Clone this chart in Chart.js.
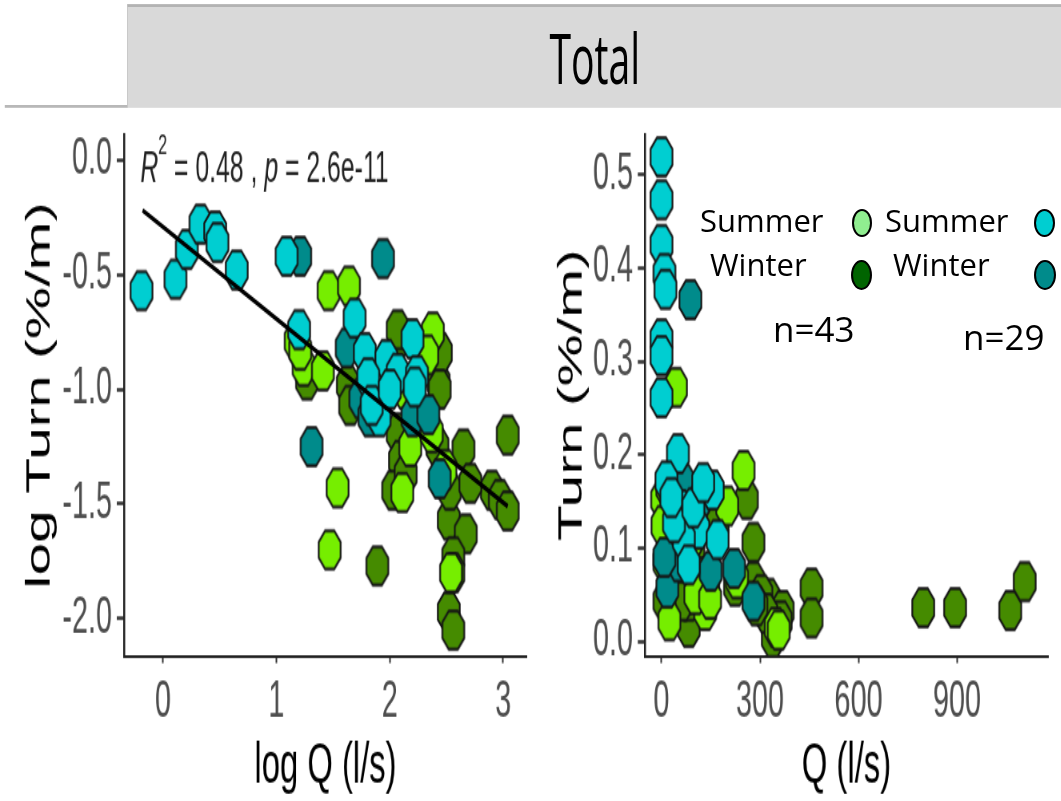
<!DOCTYPE html>
<html>
<head>
<meta charset="utf-8">
<title>Total</title>
<script src="https://cdn.jsdelivr.net/npm/chart.js@4.4.1/dist/chart.umd.min.js"></script>
<style>
  html, body { margin: 0; padding: 0; background: #fff; overflow: hidden; }
  body { width: 1061px; height: 801px; position: relative; }
  /* the original figure is stretched vertically, so the chart stage is drawn flat and scaled */
  #stage { position: absolute; left: 0; top: 0; width: 1326px; height: 572px; transform: scale(0.8, 1.4); transform-origin: 0 0; }
  #strip { position: absolute; left: 159px; top: 3px; width: 1167px; height: 72px; background: #d9d9d9; border-top: 2px solid #b3b3b3; border-left: 1px solid #c4c4c4; }
  #stripText { position: absolute; left: 0; right: 0; top: 12px; text-align: center; font: 49px/49px "Open Sans", sans-serif; color: #000; }
  #rule { position: absolute; left: 6px; top: 75px; width: 153px; height: 2px; background: #b8b8b8; }
  #leftBox { position: absolute; left: 0; top: 80px; width: 690px; height: 492px; }
  #rightBox { position: absolute; left: 690px; top: 80px; width: 636px; height: 492px; }
  .note { position: absolute; font-family: "Open Sans", sans-serif; color: #000; line-height: 1; white-space: nowrap; }
  .key { position: absolute; box-sizing: border-box; border: 2px solid #000; border-radius: 50%; }
</style>
</head>
<body>
<div id="stage">
  <div id="strip"><div id="stripText">Total</div></div>
  <div id="rule"></div>
  <div id="leftBox"><canvas id="leftChart"></canvas></div>
  <div id="rightBox"><canvas id="rightChart"></canvas></div>
</div>

<div class="note" style="left:700px; top:205px; font-size:31px;">Summer</div>
<div class="note" style="left:885px; top:205px; font-size:31px;">Summer</div>
<div class="note" style="left:710px; top:249px; font-size:31px;">Winter</div>
<div class="note" style="left:893px; top:249px; font-size:31px;">Winter</div>
<div class="note" style="left:773px; top:311px; font-size:35px;">n=43</div>
<div class="note" style="left:963px; top:319px; font-size:35px;">n=29</div>
<div class="key" style="left:852px; top:209px; width:20px; height:28px; background:#90ee90;"></div>
<div class="key" style="left:1034px; top:209px; width:21px; height:28px; background:#00ced1;"></div>
<div class="key" style="left:851px; top:260px; width:21px; height:30px; background:#006400;"></div>
<div class="key" style="left:1034px; top:260px; width:22px; height:30px; background:#008b8b;"></div>

<script>
// ---- left panel: log Q vs log Turn ----
const logQ_A_summer = [1.46, 1.64, 2.38, 1.24, 1.41, 2.33, 2.18, 1.54, 2.11, 1.47, 2.54, 1.17, 2.13, 2.37, 2.49, 1.21];
const logTurn_A_summer = [-0.57, -0.55, -0.75, -0.90, -0.92, -0.85, -1.25, -1.43, -1.45, -1.70, -1.80, -0.79, -1.00, -1.19, -1.35, -0.83];
const logQ_A_winter = [2.09, 2.43, 2.45, 1.63, 1.65, 2.44, 2.07, 2.09, 2.42, 2.65, 3.04, 2.03, 2.90, 2.97, 3.04, 2.52, 2.67, 1.89, 2.56, 2.52, 2.56, 1.27, 2.53, 2.07, 2.71, 2.14, 2.56];
const logTurn_A_winter = [-0.77, -0.97, -0.84, -0.98, -1.07, -1.00, -1.19, -1.31, -1.25, -1.26, -1.20, -1.44, -1.44, -1.48, -1.53, -1.57, -1.63, -1.77, -1.73, -1.97, -2.05, -0.96, -1.44, -0.74, -1.41, -1.37, -1.80];
const logQ_B_summer = [-0.19, 0.11, 0.21, 0.33, 0.46, 0.48, 0.65, 1.09, 1.20, 1.69, 2.20, 1.78, 1.97, 2.07, 2.24, 1.81, 1.91, 1.84, 2.00, 2.22];
const logTurn_B_summer = [-0.57, -0.52, -0.39, -0.28, -0.31, -0.36, -0.48, -0.42, -0.74, -0.69, -0.78, -0.84, -0.87, -0.93, -0.94, -0.95, -1.12, -1.07, -1.00, -0.99];
const logQ_B_winter = [1.21, 1.94, 1.62, 1.74, 1.82, 2.20, 2.34, 1.31, 2.44];
const logTurn_B_winter = [-0.42, -0.43, -0.82, -1.04, -1.12, -1.12, -1.11, -1.25, -1.39];
const fitLogQ = [-0.18, 3.04];
const fitLogTurn = [-0.22, -1.51];
const logQTicks = [0, 1, 2, 3];
const logTurnTicks = [-2.0, -1.5, -1.0, -0.5, 0.0];
const statText = { r2: "0.48", p: "2.6e-11" };

// ---- right panel: Q vs Turn ----
const Q_A_summer = [44, 2, 200, 250, 3, 142, 133, 348, 24, 103, 230, 148, 9, 18, 357, 88];
const turn_A_summer = [0.272, 0.152, 0.145, 0.183, 0.124, 0.057, 0.033, 0.015, 0.022, 0.050, 0.067, 0.045, 0.085, 0.165, 0.012, 0.106];
const Q_A_winter = [118, 260, 280, 280, 327, 369, 339, 83, 457, 457, 797, 894, 1062, 1106, 304, 38, 83, 363, 319, 112, 62, 224, 289, 97, 171, 9, 127];
const turn_A_winter = [0.159, 0.152, 0.106, 0.064, 0.046, 0.033, 0.004, 0.015, 0.057, 0.025, 0.036, 0.036, 0.033, 0.064, 0.050, 0.078, 0.043, 0.022, 0.030, 0.053, 0.043, 0.059, 0.038, 0.100, 0.127, 0.043, 0.069];
const Q_B_summer = [0, 0, 0, 9, 12, 0, 0, 0, 50, 15, 59, 156, 112, 171, 68, 83, 38, 30, 97, 127];
const turn_B_summer = [0.519, 0.473, 0.425, 0.394, 0.377, 0.324, 0.306, 0.261, 0.201, 0.172, 0.141, 0.162, 0.120, 0.109, 0.109, 0.082, 0.127, 0.154, 0.143, 0.170];
const Q_B_winter = [88, 68, 150, 221, 18, 280, 53, 112, 9];
const turn_B_winter = [0.366, 0.169, 0.075, 0.078, 0.057, 0.043, 0.085, 0.148, 0.090];
const QTicks = [0, 300, 600, 900];
const turnTicks = [0.0, 0.1, 0.2, 0.3, 0.4, 0.5];

const colA_summer = "#76ee00";
const colA_winter = "#458b00";
const colB_summer = "#00ced1";
const colB_winter = "#008b8b";

const pts = (xs, ys) => xs.map((x, i) => ({ x: x, y: ys[i] }));

// octagon marker like the low-res R points
const makeMarker = (fill) => {
  const c = document.createElement("canvas");
  c.width = 34; c.height = 34;
  const g = c.getContext("2d");
  g.beginPath();
  for (let k = 0; k < 8; k++) {
    const a = Math.PI / 8 + k * Math.PI / 4;
    const px = 17 + 14.8 * Math.cos(a), py = 17 + 14.8 * Math.sin(a);
    if (k === 0) g.moveTo(px, py); else g.lineTo(px, py);
  }
  g.closePath();
  g.fillStyle = fill;
  g.fill();
  g.lineWidth = 2.2;
  g.strokeStyle = "#151515";
  g.stroke();
  return c;
};

const pointSet = (data, fill, order) => ({
  data: data,
  pointStyle: makeMarker(fill),
  pointRadius: 15,
  backgroundColor: fill,
  order: order,
});

const tickFont = { family: "Liberation Sans", size: 36 };
const titleFont = { family: "Liberation Sans", size: 42, lineHeight: 1.2 };

const axisX = (min, max, ticks, title) => ({
  type: "linear",
  min: min,
  max: max,
  afterBuildTicks: (s) => { s.ticks = ticks.map((v) => ({ value: v })); },
  afterFit: (s) => { s.height = 103.4; s.paddingLeft = 0; s.paddingRight = 0; },
  grid: { drawOnChartArea: false, tickLength: 5, tickColor: "#333", tickWidth: 2 },
  border: { display: true, color: "#222", width: 2 },
  ticks: { color: "#4d4d4d", font: tickFont, padding: 7, maxRotation: 0, callback: (v) => String(v) },
  title: { display: true, text: title, color: "#000", font: { family: "Liberation Sans", size: 41, lineHeight: 1.1 }, padding: { top: 0, bottom: 2 } },
});

const axisY = (min, max, ticks, title, width, titlePad) => ({
  type: "linear",
  min: min,
  max: max,
  afterBuildTicks: (s) => { s.ticks = ticks.map((v) => ({ value: v })); },
  afterFit: (s) => { s.width = width; s.paddingTop = 0; s.paddingBottom = 0; },
  grid: { drawOnChartArea: false, tickLength: 9, tickColor: "#333", tickWidth: 2.5 },
  border: { display: true, color: "#222", width: 2.5 },
  ticks: { color: "#4d4d4d", font: tickFont, padding: 6, callback: (v) => Number(v).toFixed(1) },
  title: { display: true, text: title, color: "#000", font: titleFont, padding: { top: titlePad, bottom: 0 } },
});

// R^2 / p label drawn in data space at the top left of the left panel
const statPos = [-0.20, -0.095];
const statLabel = {
  id: "statLabel",
  afterDatasetsDraw(chart) {
    const { ctx, scales } = chart;
    let px = scales.x.getPixelForValue(statPos[0]);
    const py = scales.y.getPixelForValue(statPos[1]);
    const parts = [
      ["R", "italic ", 0, 31],
      ["2", "", -20, 20],
      [" = " + statText.r2 + " , ", "", 0, 31],
      ["p", "italic ", 0, 31],
      [" = " + statText.p, "", 0, 31],
    ];
    ctx.save();
    ctx.fillStyle = "#222";
    ctx.textBaseline = "alphabetic";
    parts.forEach(([t, style, dy, size]) => {
      ctx.font = style + size + 'px "Liberation Sans"';
      ctx.fillText(t, px, py + dy);
      px += ctx.measureText(t).width;
    });
    ctx.restore();
  },
};

new Chart(document.getElementById("leftChart"), {
  type: "scatter",
  data: {
    datasets: [
      pointSet(pts(logQ_A_winter, logTurn_A_winter), colA_winter, 4),
      pointSet(pts(logQ_A_summer, logTurn_A_summer), colA_summer, 3),
      pointSet(pts(logQ_B_winter, logTurn_B_winter), colB_winter, 2),
      pointSet(pts(logQ_B_summer, logTurn_B_summer), colB_summer, 1),
      {
        type: "line",
        data: pts(fitLogQ, fitLogTurn),
        borderColor: "#000",
        borderWidth: 3.5,
        pointRadius: 0,
        fill: false,
        order: 0,
      },
    ],
  },
  options: {
    animation: false,
    responsive: true,
    maintainAspectRatio: false,
    layout: { padding: { top: 9.3, right: 31.25, left: 0, bottom: 0 } },
    plugins: { legend: { display: false }, tooltip: { enabled: false } },
    scales: {
      x: axisX(-0.344, 3.21, logQTicks, "log Q (l/s)"),
      y: axisY(-2.163, 0.111, logTurnTicks, "log Turn (%/m)", 155, 25),
    },
  },
  plugins: [statLabel],
});

new Chart(document.getElementById("rightChart"), {
  type: "scatter",
  data: {
    datasets: [
      pointSet(pts(Q_A_winter, turn_A_winter), colA_winter, 4),
      pointSet(pts(Q_A_summer, turn_A_summer), colA_summer, 3),
      pointSet(pts(Q_B_winter, turn_B_winter), colB_winter, 2),
      pointSet(pts(Q_B_summer, turn_B_summer), colB_summer, 1),
    ],
  },
  options: {
    animation: false,
    responsive: true,
    maintainAspectRatio: false,
    layout: { padding: { top: 9.3, right: 0, left: 0, bottom: 0 } },
    plugins: { legend: { display: false }, tooltip: { enabled: false } },
    scales: {
      x: axisX(-50.2, 1177, QTicks, "Q (l/s)"),
      y: axisY(-0.0158, 0.543, turnTicks, "Turn (%/m)", 116.25, 0),
    },
  },
});
</script>
</body>
</html>
